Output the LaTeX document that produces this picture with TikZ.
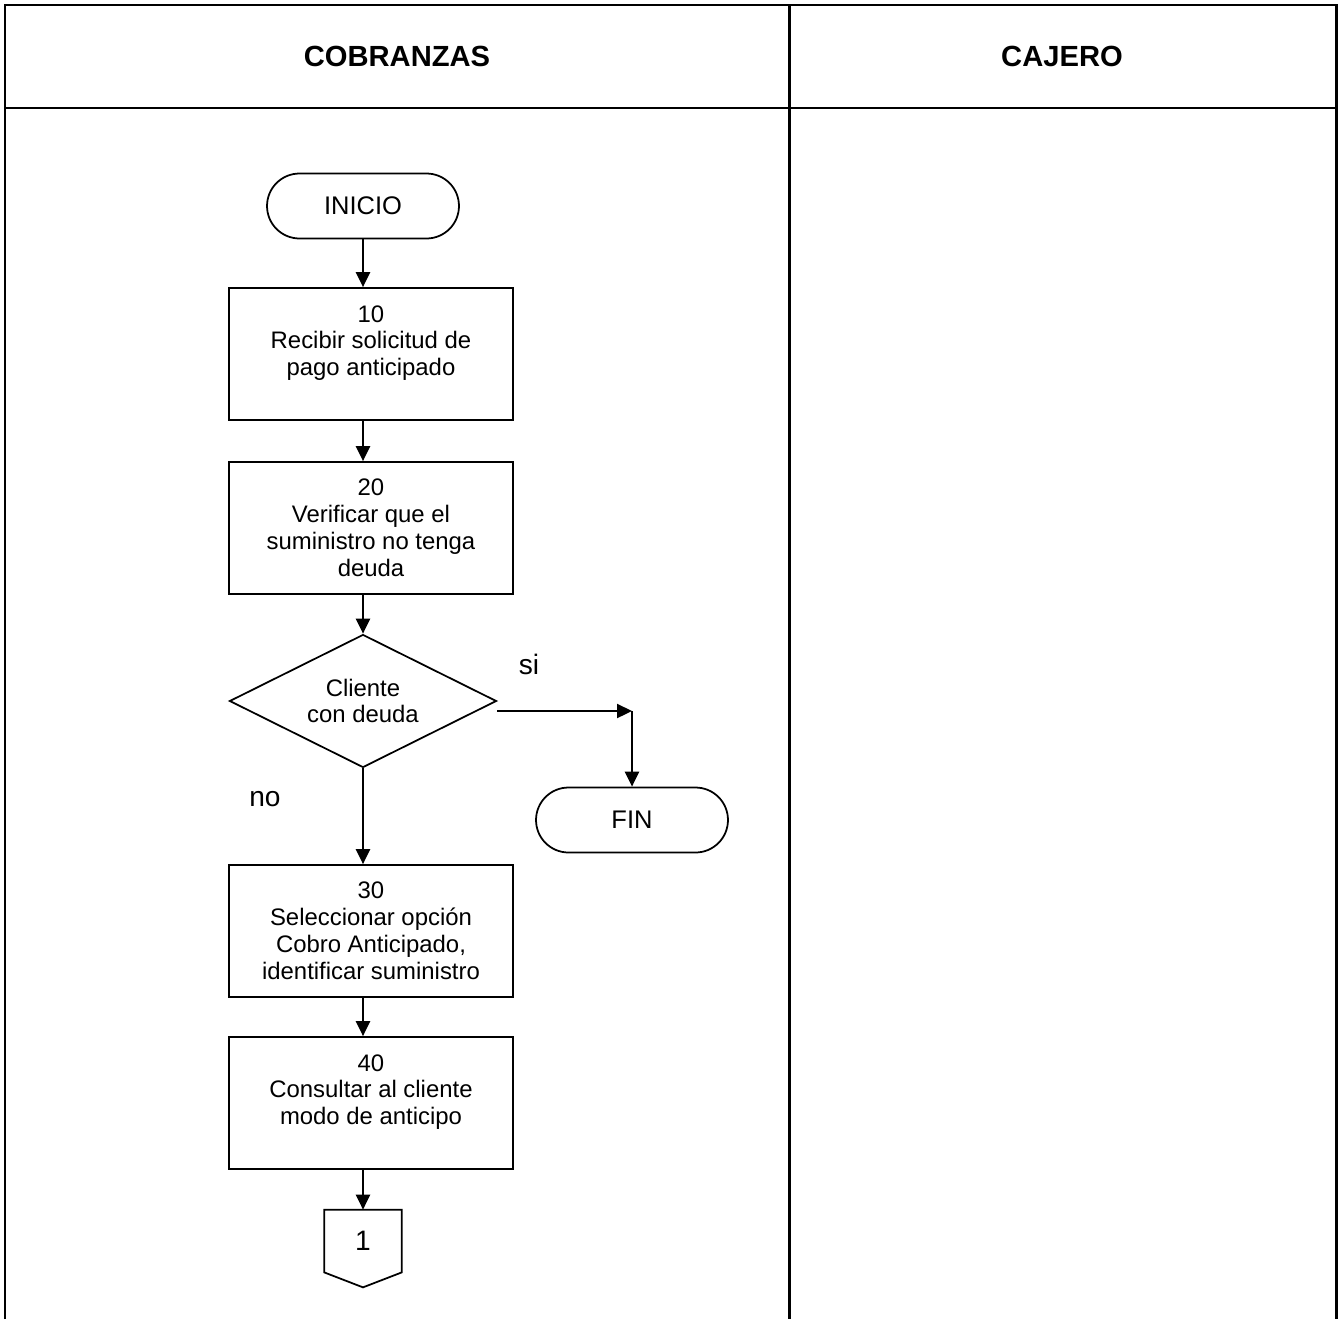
\documentclass[tikz,border=0pt]{standalone}
\usepackage{fontspec}
\setmainfont{Liberation Sans}
\usetikzlibrary{shapes.geometric,arrows.meta,calc}

\begin{document}
\begin{tikzpicture}[x=0.02cm,y=-0.02cm,>={Triangle[length=0.3cm,width=0.28cm]},
    proceso/.style={draw,line width=1pt,minimum width=5.68cm,minimum height=2.64cm,inner sep=0pt,align=center,font=\fontsize{13.6}{15.3}\selectfont},
    terminal/.style={draw,line width=1pt,rounded corners=0.65cm,minimum width=3.84cm,minimum height=1.3cm,font=\fontsize{14.5}{16}\selectfont},
    decision/.style={draw,diamond,shape aspect=2,line width=1pt,minimum width=5.34cm,minimum height=2.66cm,inner sep=0pt,align=center,font=\fontsize{13.6}{15.3}\selectfont},
    flujo/.style={->,line width=1.3pt},
    etiqueta/.style={font=\fontsize{16}{18}\selectfont},
    titulo/.style={font=\bfseries\fontsize{16.6}{19}\selectfont}]
    \useasboundingbox (0,0) rectangle (1342,1319);

    % Tabla de carriles
    \draw[line width=1.7pt] (5,1319) -- (5,5) -- (1336,5) -- (1336,1319);
    \draw[line width=1.7pt] (5,108) -- (1336,108);
    \draw[line width=1.7pt] (789,5) -- (789,1319);
    \node[titulo] (cobranzas) at (397,56) {COBRANZAS};
    \node[titulo] (cajero) at (1062,56) {CAJERO};

    % Pasos
    \node[terminal] (inicio) at (363,206) {INICIO};
    \node[proceso] (p10) at (371,354) {10\\Recibir solicitud de\\pago anticipado\\~};
    \node[proceso] (p20) at (371,528) {20\\Verificar que el\\suministro no tenga\\deuda};
    \node[decision] (dec) at (363,701) {Cliente\\con deuda};
    \node[terminal] (fin) at (632,820) {FIN};
    \node[proceso] (p30) at (371,931) {30\\Seleccionar opción\\Cobro Anticipado,\\identificar suministro};
    \node[proceso] (p40) at (371,1103) {40\\Consultar al cliente\\modo de anticipo\\~};
    \node[minimum width=1.54cm,minimum height=1.24cm,inner sep=0pt,font=\fontsize{16}{18}\selectfont] (con1) at (363,1241) {1};
    \draw[line width=1pt] (con1.north west) -- (con1.north east) -- (con1.south east)
        -- ($(con1.south)+(0,15)$) -- (con1.south west) -- cycle;

    % Etiquetas
    \node[etiqueta] (si) at (529,664) {si};
    \node[etiqueta] (no) at (265,799) {no};

    % Flujo
    \draw[flujo] (inicio.south) -- (inicio.south |- p10.north);
    \draw[flujo] (inicio.south |- p10.south) -- (inicio.south |- p20.north);
    \draw[flujo] (inicio.south |- p20.south) -- (dec.north);
    \draw[flujo] (dec.south) -- (dec.south |- p30.north);
    \draw[flujo] (dec.south |- p30.south) -- (dec.south |- p40.north);
    \draw[flujo] (dec.south |- p40.south) -- (con1.north);
    \coordinate (esq) at (632,711);
    \draw[flujo] (dec.east |- esq) -- (esq);
    \draw[flujo] (esq) -- (fin.north);
\end{tikzpicture}
\end{document}
